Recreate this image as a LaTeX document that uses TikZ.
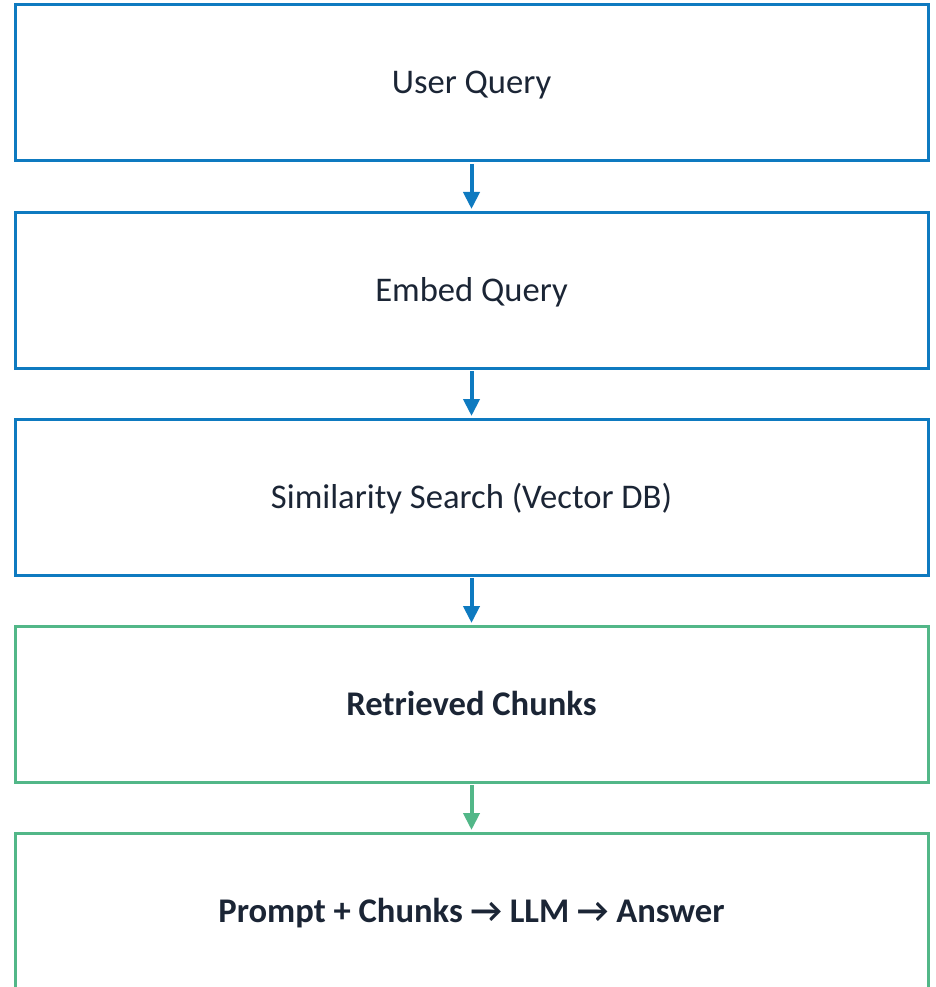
\documentclass[tikz,border=0pt]{standalone}
\usepackage{fontspec}
\setmainfont{Carlito}
\usetikzlibrary{positioning,arrows.meta}

\definecolor{flowblue}{RGB}{14,122,192}
\definecolor{flowgreen}{RGB}{82,183,136}
\definecolor{inkdark}{RGB}{27,37,53}

\tikzset{
    stage/.style={draw=flowblue, line width=3pt, minimum width=913pt, minimum height=156pt,
        inner sep=0pt, outer sep=0pt, text=inkdark, text height=22pt, text depth=0pt,
        font=\fontsize{34.6}{40}\selectfont},
    result/.style={stage, draw=flowgreen, font=\fontsize{34.6}{40}\selectfont\bfseries},
    flowarrow/.style={draw=flowblue, line width=4pt, shorten <=3pt, shorten >=3pt,
        -{Triangle[width=16pt,length=17pt]}},
}

\begin{document}
\begin{tikzpicture}[x=1pt, y=-1pt, node distance=51pt]
    % 전체 크기 고정
    \useasboundingbox (0,0) rectangle (936,987);

    % Step 1: 검색 단계 박스
    \node[stage] (query) at (471.5,83) {User Query};
    \node[stage, below=of query] (embed) {Embed Query};
    \node[stage, below=of embed] (search) {Similarity Search (Vector DB)};

    % Step 2: 결과 단계 박스
    \node[result, below=of search] (chunks) {Retrieved Chunks};
    \node[result, below=of chunks] (answer) {Prompt + Chunks → LLM → Answer};

    % Step 3: 화살표
    \draw[flowarrow] (query) -- (embed);
    \draw[flowarrow] (embed) -- (search);
    \draw[flowarrow] (search) -- (chunks);
    \draw[flowarrow, draw=flowgreen] (chunks) -- (answer);

\end{tikzpicture}
\end{document}
